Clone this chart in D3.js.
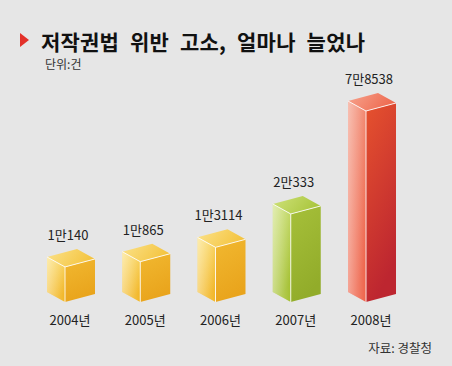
<!DOCTYPE html>
<html><head><meta charset="utf-8">
<script src="https://cdn.jsdelivr.net/npm/d3@7"></script>
<style>
html,body{margin:0;padding:0;background:#e6e6e6;}
svg{display:block;font-family:"Noto Sans CJK KR","Noto Sans",sans-serif;}
</style></head>
<body>
<svg id="c" width="452" height="366"></svg>
<script>
const years = ["2004년","2005년","2006년","2007년","2008년"];
const values = [10140, 10865, 13114, 20333, 78538];
const valueLabels = ["1만140","1만865","1만3114","2만333","7만8538"];
const colorKeys = ["y","y","y","g","r"];
const title = "저작권법 위반 고소, 얼마나 늘었나";
const unitText = "단위:건";
const sourceText = "자료: 경찰청";

const W = 452, H = 366;
const svg = d3.select("#c");
svg.append("rect").attr("width",W).attr("height",H).attr("fill","#e6e6e6");

const defs = svg.append("defs");
const pal = {
  y:{top:["#fbe28a","#f4c440"], left:["#fbe07a","#f2b624"], right:["#f1b830","#e9a41c"]},
  g:{top:["#cfe27a","#aac63e"], left:["#cfe27e","#a4c030"], right:["#a6c03a","#92ac2a"]},
  r:{top:["#f7a48e","#ee6a50"], left:["#f3957e","#ee6248"], right:["#e6522e","#bd2630"]}
};
Object.entries(pal).forEach(([k,p])=>{
  ["top","left","right"].forEach(f=>{
    const g = defs.append("linearGradient").attr("id",`g-${k}-${f}`)
      .attr("x1",0).attr("y1",0).attr("x2", f==="top"?1:0.3).attr("y2", f==="top"?0.3:1);
    g.append("stop").attr("offset","0%").attr("stop-color",p[f][0]);
    g.append("stop").attr("offset","100%").attr("stop-color",p[f][1]);
  });
});
const gl = defs.append("linearGradient").attr("id","gloss").attr("x1",0).attr("y1",0).attr("x2",1).attr("y2",0);
gl.append("stop").attr("offset","0%").attr("stop-color","#fff").attr("stop-opacity",0.4);
gl.append("stop").attr("offset","100%").attr("stop-color","#fff").attr("stop-opacity",0);

// Title
svg.append("path").attr("d","M20,33 L29,40 L20,47 Z").attr("fill","#e3312a");
svg.append("text").attr("x",41).attr("y",50).attr("font-size",21).attr("font-weight","bold")
  .attr("fill","#111").attr("letter-spacing","0.2").attr("word-spacing","6").text(title);
svg.append("text").attr("x",45).attr("y",69).attr("font-size",12).attr("fill","#333").text(unitText);
svg.append("text").attr("x",432).attr("y",353).attr("text-anchor","end").attr("font-size",12.5).attr("fill","#333").text(sourceText);

// scales
const x = d3.scalePoint().domain(years).range([65, 366]);
const hScale = d3.scaleLog().domain([6400, d3.max(values)]).range([0, 191]);
const base = 302, wL = 18, wR = 30, dyL = 10, dyR = 8;

const g = svg.append("g");
years.forEach((yr,i)=>{
  const fx = x(yr), ft = base - hScale(values[i]);
  const k = colorKeys[i];
  const lx = fx - wL, rx = fx + wR;
  const bg = g.append("g");
  bg.append("path").attr("d",`M${lx},${ft-dyL} L${fx},${ft} L${fx},${base} L${lx},${base-dyL} Z`)
    .attr("fill",`url(#g-${k}-left)`);
  bg.append("path").attr("d",`M${lx},${ft-dyL} L${fx},${ft} L${fx},${base} L${lx},${base-dyL} Z`)
    .attr("fill","url(#gloss)");
  bg.append("path").attr("d",`M${fx},${ft} L${rx},${ft-dyR} L${rx},${base-dyR} L${fx},${base} Z`)
    .attr("fill",`url(#g-${k}-right)`);
  bg.append("path").attr("d",`M${lx},${ft-dyL} L${fx},${ft} L${rx},${ft-dyR} L${lx+wR},${ft-dyL-dyR} Z`)
    .attr("fill",`url(#g-${k}-top)`);
  bg.append("path").attr("d",`M${lx},${ft-dyL} L${fx},${ft} L${rx},${ft-dyR} M${fx},${ft} L${fx},${base}`)
    .attr("fill","none").attr("stroke","#fff").attr("stroke-opacity",0.85).attr("stroke-width",1);
  g.append("text").attr("x",fx+3).attr("y",ft-27).attr("text-anchor","middle")
    .attr("font-size",13).attr("fill","#222").text(valueLabels[i]);
  g.append("text").attr("x",fx+5).attr("y",325).attr("text-anchor","middle")
    .attr("font-size",13).attr("fill","#222").text(yr);
});
</script>
</body></html>
